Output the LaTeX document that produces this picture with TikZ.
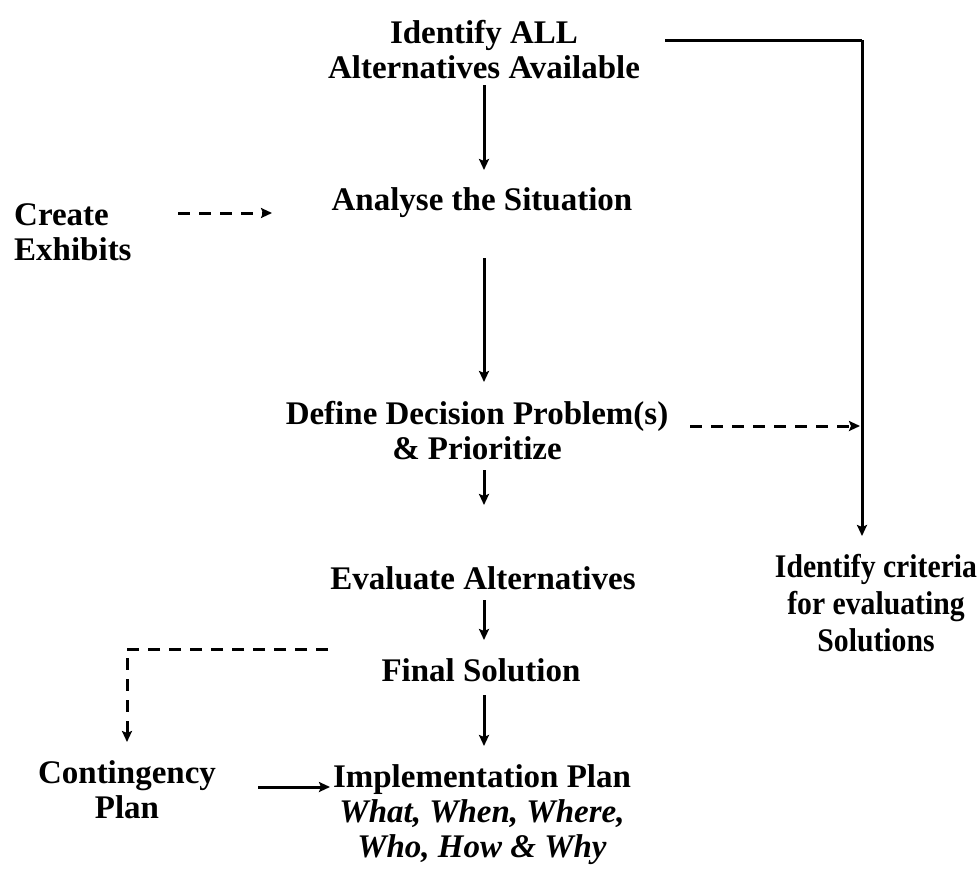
\documentclass[tikz,border=0pt]{standalone}
\usepackage{fontspec}
\setmainfont{Liberation Serif}
\newfontfamily\narrowserif{Liberation Serif}[FakeStretch=0.9]
\usetikzlibrary{arrows.meta}
\begin{document}
\begin{tikzpicture}[x=1pt,y=-1pt,
  lbl/.style={font=\fontsize{33}{35}\selectfont\bfseries, align=center, inner sep=0pt},
  tip/.style={-{Stealth[length=11pt,width=10pt,inset=2pt]}},
  flow/.style={line width=3pt, tip},
  dflow/.style={line width=3pt, dash pattern=on 12pt off 9pt, tip},
  plain/.style={line width=3pt}]
\useasboundingbox (0,0) rectangle (978,870);

% labels
\node[lbl] (alt) at (484,50) {Identify ALL\\Alternatives Available};
\node[lbl] (ana) at (482,203) {Analyse the Situation};
\node[lbl, align=left, anchor=west] (exh) at (14,232) {Create\\Exhibits};
\node[lbl] (def) at (477,431) {Define Decision Problem(s)\\\& Prioritize};
\node[lbl, font=\fontsize{33}{37}\selectfont\narrowserif\bfseries] (crit) at (876,603) {Identify criteria\\for evaluating\\Solutions};
\node[lbl] (eva) at (483,578) {Evaluate Alternatives};
\node[lbl] (fin) at (481,670) {Final Solution};
\node[lbl] (con) at (127,790) {Contingency\\Plan};
\node[lbl] (imp) at (482,815) {Implementation Plan\\\textit{What, When, Where,}\\\textit{Who, How \& Why}};

% corner points of the elbow connectors
\coordinate (tr) at (862,40);
\coordinate (dl) at (127,649);

% connectors
\draw[plain] (665,40) -- (tr);
\draw[flow] (tr) -- (862,536);
\draw[flow] (484,85) -- (484,170);
\draw[dflow] (178,213) -- (272,213);
\draw[flow] (484,258) -- (484,382);
\draw[dflow] (690,426) -- (860,426);
\draw[flow] (484,470) -- (484,505);
\draw[flow] (484,600) -- (484,640);
\draw[dflow] (328,649) -- (dl) -- (127,742);
\draw[flow] (484,695) -- (484,746);
\draw[flow] (258,787) -- (330,787);
\end{tikzpicture}
\end{document}
